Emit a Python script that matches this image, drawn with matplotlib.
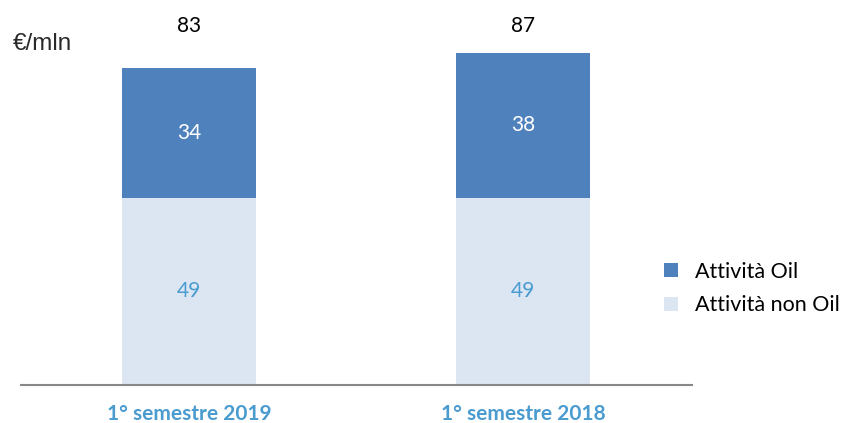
import matplotlib.pyplot as plt
import numpy as np

categories = ["1° semestre 2019", "1° semestre 2018"]
non_oil = [49, 49]
oil = [34, 38]
totals = [83, 87]

dark = "#4F81BD"
light = "#DCE6F2"
lbl_blue = "#4A9BD0"

fig = plt.figure(figsize=(8.43, 4.23), dpi=100)
# axes: baseline at y=385px, top at figure top
ax = fig.add_axes([21 / 843, 1 - 385 / 423, (692 - 21) / 843, 385 / 423])

x = np.arange(len(categories))
w = 0.40
ax.bar(x, non_oil, w, color=light, label="Attività non Oil")
ax.bar(x, oil, w, bottom=non_oil, color=dark, label="Attività Oil")

for i in range(len(categories)):
    ax.text(x[i], non_oil[i] / 2, str(non_oil[i]), ha="center", va="center",
            fontsize=15, color=lbl_blue, family="Lato")
    ax.text(x[i], non_oil[i] + oil[i] / 2, str(oil[i]), ha="center", va="center",
            fontsize=15, color="white", family="Lato")
    # totals sit on one line above the bars
    ax.text(x[i], 94, str(totals[i]), ha="center", va="center",
            fontsize=15, color="black", family="Lato")

ax.set_xlim(-0.503, 1.506)
ax.set_ylim(0, 385 / 3.82)
for s in ["top", "right", "left"]:
    ax.spines[s].set_visible(False)
ax.spines["bottom"].set_color("#888888")
ax.spines["bottom"].set_linewidth(1.5)
ax.set_yticks([])
ax.set_xticks(x)
ax.set_xticklabels(categories, fontsize=15, fontweight="bold", color=lbl_blue, family="Lato")
ax.tick_params(axis="x", length=0, pad=14)

fig.text(13 / 843, 1 - 44 / 423, "€/mln", fontsize=17.5, color="#2a2a2a",
         family="Liberation Sans", va="center", ha="left")

h, l = ax.get_legend_handles_labels()
fig.legend(h[::-1], l[::-1], loc="center left", bbox_to_anchor=(664 / 843, 1 - 288.5 / 423),
           frameon=False, handlelength=0.65, handleheight=0.65,
           handletextpad=0.8, labelspacing=0.65, borderpad=0, borderaxespad=0,
           prop={"family": "Lato", "size": 15.5})

fig.savefig("out.png", dpi=100)
